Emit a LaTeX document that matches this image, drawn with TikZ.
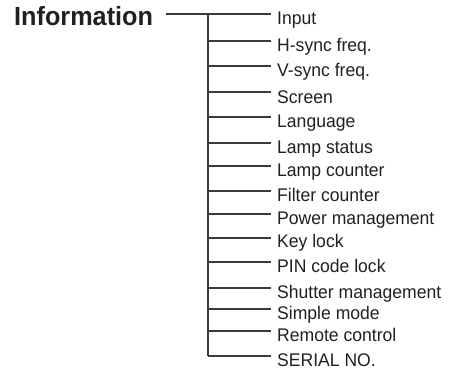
\documentclass[tikz,border=0pt]{standalone}
\usepackage{fontspec}
\setmainfont{Liberation Sans}
\newfontfamily\menufont[FakeStretch=0.96]{Liberation Sans}
\usetikzlibrary{positioning, calc}
\definecolor{inkgray}{HTML}{231F20}
\definecolor{wiregray}{HTML}{3C3A3B}

\begin{document}
\begin{tikzpicture}[x=1pt, y=-1pt,
  branch/.style={wiregray, line width=1.3pt},
  item/.style={text=inkgray, font=\menufont\fontsize{18.3}{20}\selectfont, anchor=base west, inner xsep=6pt, inner ysep=0pt},
  headline/.style={text=inkgray, font=\menufont\fontsize{26.3}{28}\selectfont\bfseries, anchor=base west, inner sep=0pt}]

% Frame of the page
\useasboundingbox (0,0) rectangle (464,371);

% Title
\node[headline] (info) at (14,26) {Information};
\coordinate (lead) at (166,14);

% Trunk
\coordinate (top) at (208,14);
\coordinate (bot) at (208,356);
\draw[branch] (lead) -- (top);
\draw[branch] (top) -- (bot);

% Menu items
\node[item] (it1) at (271,25) {Input};
\node[item] (it2) at (271,52) {H-sync freq.};
\node[item] (it3) at (271,77) {V-sync freq.};
\node[item] (it4) at (271,104) {Screen};
\node[item] (it5) at (271,128) {Language};
\node[item] (it6) at (271,154) {Lamp status};
\node[item] (it7) at (271,177) {Lamp counter};
\node[item] (it8) at (271,202) {Filter counter};
\node[item] (it9) at (271,225) {Power management};
\node[item] (it10) at (271,248) {Key lock};
\node[item] (it11) at (271,273) {PIN code lock};
\node[item] (it12) at (271,299) {Shutter management};
\node[item] (it13) at (271,320) {Simple mode};
\node[item] (it14) at (271,342) {Remote control};
\node[item] (it15) at (271,367) {SERIAL NO.};

% Junctions on the trunk
\coordinate (j2) at (208,41);
\coordinate (j3) at (208,66);
\coordinate (j4) at (208,92);
\coordinate (j5) at (208,117);
\coordinate (j6) at (208,143);
\coordinate (j7) at (208,166);
\coordinate (j8) at (208,191);
\coordinate (j9) at (208,214);
\coordinate (j10) at (208,238);
\coordinate (j11) at (208,262);
\coordinate (j12) at (208,288);
\coordinate (j13) at (208,309);
\coordinate (j14) at (208,331);

% Branches
\draw[branch] (top) -- (top -| it1.west);
\draw[branch] (j2) -- (j2 -| it2.west);
\draw[branch] (j3) -- (j3 -| it3.west);
\draw[branch] (j4) -- (j4 -| it4.west);
\draw[branch] (j5) -- (j5 -| it5.west);
\draw[branch] (j6) -- (j6 -| it6.west);
\draw[branch] (j7) -- (j7 -| it7.west);
\draw[branch] (j8) -- (j8 -| it8.west);
\draw[branch] (j9) -- (j9 -| it9.west);
\draw[branch] (j10) -- (j10 -| it10.west);
\draw[branch] (j11) -- (j11 -| it11.west);
\draw[branch] (j12) -- (j12 -| it12.west);
\draw[branch] (j13) -- (j13 -| it13.west);
\draw[branch] (j14) -- (j14 -| it14.west);
\draw[branch] (bot) -- (bot -| it15.west);

\end{tikzpicture}
\end{document}
